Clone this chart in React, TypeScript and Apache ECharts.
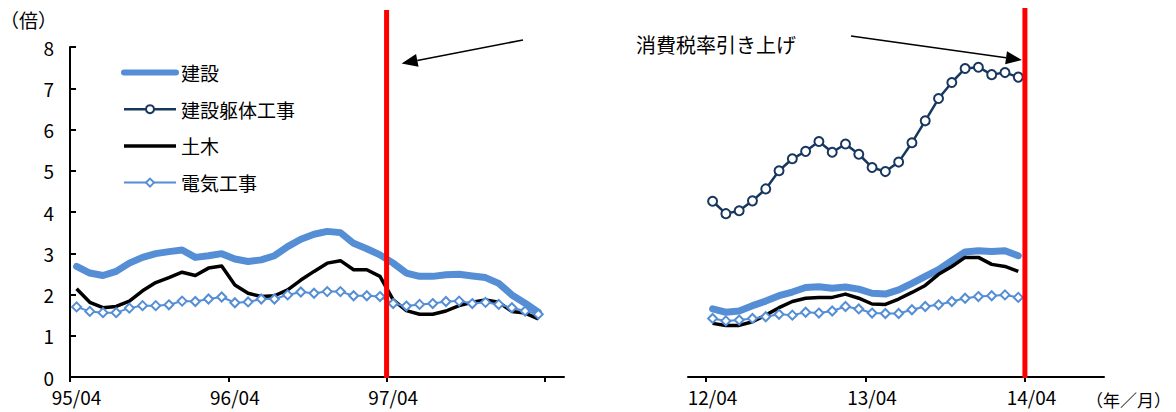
import { useEffect, useRef } from 'react';
import * as echarts from 'echarts';

// Series names (legend order)
const NAMES = ['建設', '建設躯体工事', '土木', '電気工事'];

// Tick labels (April of each fiscal year)
const LEFT_TICK_LABELS = ['95/04', '96/04', '97/04'];
const RIGHT_TICK_LABELS = ['12/04', '13/04', '14/04'];

// Monthly ratios, 1995/04 – 1998/03
const kensetsu95 = [
  2.68, 2.52, 2.46, 2.56, 2.76, 2.90, 2.99, 3.04, 3.08, 2.90, 2.94, 2.99,
  2.86, 2.80, 2.84, 2.94, 3.16, 3.34, 3.46, 3.53, 3.50, 3.24, 3.11, 2.96,
  2.76, 2.52, 2.44, 2.44, 2.48, 2.49, 2.45, 2.41, 2.27, 1.99, 1.79, 1.57,
];
const doboku95 = [
  2.14, 1.81, 1.68, 1.71, 1.84, 2.09, 2.29, 2.41, 2.54, 2.46, 2.64, 2.69,
  2.23, 2.03, 1.95, 1.97, 2.11, 2.35, 2.56, 2.76, 2.82, 2.60, 2.60, 2.44,
  1.87, 1.61, 1.52, 1.52, 1.60, 1.73, 1.81, 1.87, 1.81, 1.59, 1.55, 1.41,
];
const denki95 = [
  1.70, 1.59, 1.56, 1.56, 1.67, 1.73, 1.73, 1.75, 1.84, 1.83, 1.89, 1.94,
  1.80, 1.82, 1.89, 1.89, 1.99, 2.06, 2.03, 2.07, 2.07, 1.97, 1.97, 1.95,
  1.78, 1.72, 1.76, 1.78, 1.83, 1.84, 1.78, 1.81, 1.76, 1.68, 1.60, 1.52,
];

// Monthly ratios, 2012/04 – 2014/03
const kensetsu12 = [
  1.65, 1.57, 1.60, 1.73, 1.84, 1.97, 2.06, 2.17, 2.19, 2.15, 2.18, 2.13,
  2.03, 2.01, 2.11, 2.27, 2.44, 2.60, 2.82, 3.03, 3.06, 3.04, 3.06, 2.94,
];
const kutai12 = [
  4.26, 3.96, 4.03, 4.27, 4.56, 5.00, 5.29, 5.47, 5.71, 5.45, 5.65, 5.40,
  5.08, 4.98, 5.21, 5.68, 6.21, 6.75, 7.14, 7.48, 7.51, 7.33, 7.38, 7.27,
];
const doboku12 = [
  1.30, 1.25, 1.25, 1.34, 1.50, 1.68, 1.83, 1.91, 1.93, 1.93, 2.01, 1.91,
  1.77, 1.76, 1.89, 2.05, 2.22, 2.49, 2.68, 2.90, 2.90, 2.73, 2.68, 2.56,
];
const denki12 = [
  1.42, 1.36, 1.38, 1.42, 1.46, 1.52, 1.50, 1.57, 1.55, 1.60, 1.71, 1.65,
  1.55, 1.54, 1.54, 1.63, 1.71, 1.75, 1.83, 1.91, 1.95, 1.97, 1.99, 1.93,
];

// Consumption-tax hike month (months from the start of each panel)
const TAX_HIKE_MONTH = 24;

const FONT = '"Noto Sans CJK JP", "Noto Sans", sans-serif';
const BLUE = '#558ED5';
const NAVY = '#17375E';

// Month index -> position at the middle of that month's slot
const toPoints = (values: number[]) => values.map((v, i) => [i + 0.5, v]);

const styleFor: Record<string, any> = {
  建設: {
    symbol: 'none',
    lineStyle: { width: 7, color: BLUE, cap: 'round', join: 'round' },
    itemStyle: { color: BLUE },
  },
  建設躯体工事: {
    symbol: 'circle',
    symbolSize: 9,
    showAllSymbol: true,
    lineStyle: { width: 2.5, color: NAVY },
    itemStyle: { color: '#fff', borderColor: NAVY, borderWidth: 2 },
  },
  土木: {
    symbol: 'none',
    lineStyle: { width: 3.5, color: '#000', join: 'round' },
    itemStyle: { color: '#000' },
  },
  電気工事: {
    symbol: 'diamond',
    symbolSize: 9,
    showAllSymbol: true,
    lineStyle: { width: 2, color: BLUE },
    itemStyle: { color: '#fff', borderColor: BLUE, borderWidth: 2 },
  },
};

const makeSeries = (name: string, panel: number, values: number[]) => ({
  type: 'line',
  name,
  xAxisIndex: panel,
  yAxisIndex: panel,
  data: toPoints(values),
  emphasis: { disabled: true },
  ...styleFor[name],
});

const xAxisFor = (panel: number, min: number, max: number, labels: string[], tickValues: number[]) => ({
  type: 'value',
  gridIndex: panel,
  min,
  max,
  axisLine: { show: true, onZero: false, lineStyle: { color: '#000', width: 2 } },
  axisTick: {
    show: true,
    inside: false,
    length: 5,
    customValues: tickValues,
    lineStyle: { color: '#000', width: 2 },
  },
  axisLabel: {
    customValues: labels.map((_, k) => k * 12 + 0.5),
    formatter: (v: number) => labels[Math.round((v - 0.5) / 12)] ?? '',
    fontSize: 19,
    fontFamily: FONT,
    color: '#000',
    margin: 10,
  },
  splitLine: { show: false },
});

function arrow(x1: number, y1: number, x2: number, y2: number) {
  const len = 16;
  const half = 6.5;
  const dx = x2 - x1;
  const dy = y2 - y1;
  const d = Math.hypot(dx, dy);
  const ux = dx / d;
  const uy = dy / d;
  const bx = x2 - ux * len;
  const by = y2 - uy * len;
  return [
    {
      type: 'line',
      z: 100,
      shape: { x1, y1, x2: bx, y2: by },
      style: { stroke: '#000', lineWidth: 1.6 },
    },
    {
      type: 'polygon',
      z: 100,
      shape: {
        points: [
          [x2, y2],
          [bx - uy * half, by + ux * half],
          [bx + uy * half, by - ux * half],
        ],
      },
      style: { fill: '#000' },
    },
  ];
}

export default function App() {
  const ref = useRef<HTMLDivElement>(null);

  useEffect(() => {
    if (!ref.current) return;
    const chart = echarts.init(ref.current, undefined, { renderer: 'svg' });

    chart.setOption({
      animation: false,
      backgroundColor: '#fff',
      grid: [
        { left: 70, top: 47, width: 494, height: 330 },
        { left: 688, top: 47, width: 416, height: 330 },
      ],
      xAxis: [
        xAxisFor(0, 0, 37.45, LEFT_TICK_LABELS, [0, 12, 24, 36]),
        xAxisFor(1, -1.35, 29.95, RIGHT_TICK_LABELS, [0, 12, 24]),
      ],
      yAxis: [
        {
          type: 'value',
          gridIndex: 0,
          min: 0,
          max: 8,
          interval: 1,
          axisLine: { show: true, onZero: false, lineStyle: { color: '#000', width: 2 } },
          axisTick: { show: true, inside: true, length: 6, lineStyle: { color: '#000', width: 2 } },
          axisLabel: { fontSize: 19, fontFamily: FONT, color: '#000', margin: 16 },
          splitLine: { show: false },
        },
        {
          type: 'value',
          gridIndex: 1,
          min: 0,
          max: 8,
          interval: 1,
          show: false,
          splitLine: { show: false },
        },
      ],
      legend: {
        orient: 'vertical',
        left: 121,
        top: 63,
        padding: 0,
        itemWidth: 52,
        itemHeight: 10,
        itemGap: 17.7,
        selectedMode: false,
        textStyle: { fontSize: 19, fontFamily: FONT, color: '#000' },
        data: [
          { name: '建設', itemStyle: { opacity: 0 }, lineStyle: { width: 6, cap: 'round' } },
          { name: '建設躯体工事', lineStyle: { width: 2.5 } },
          { name: '土木', itemStyle: { opacity: 0 }, lineStyle: { width: 3.5 } },
          { name: '電気工事', lineStyle: { width: 2 } },
        ],
      },
      series: [
        makeSeries(NAMES[0], 0, kensetsu95),
        makeSeries(NAMES[2], 0, doboku95),
        makeSeries(NAMES[3], 0, denki95),
        makeSeries(NAMES[0], 1, kensetsu12),
        makeSeries(NAMES[1], 1, kutai12),
        makeSeries(NAMES[2], 1, doboku12),
        makeSeries(NAMES[3], 1, denki12),
      ],
    });

    // Annotations placed from the axes' own scales
    const xLeft = chart.convertToPixel({ xAxisIndex: 0 }, TAX_HIKE_MONTH) as number;
    const xRight = chart.convertToPixel({ xAxisIndex: 1 }, TAX_HIKE_MONTH) as number;
    const yBase = chart.convertToPixel({ yAxisIndex: 0 }, 0) as number;

    chart.setOption({
      graphic: [
        {
          type: 'text',
          x: 0,
          y: 19,
          style: { text: '（倍）', fontSize: 19, fontFamily: FONT, fill: '#000', verticalAlign: 'middle' },
        },
        {
          type: 'text',
          x: 1171,
          y: 399,
          style: {
            text: '（年／月）',
            fontSize: 17,
            fontFamily: FONT,
            fill: '#000',
            align: 'right',
            verticalAlign: 'middle',
          },
        },
        {
          type: 'line',
          z: 100,
          shape: { x1: xLeft, y1: 10, x2: xLeft, y2: yBase + 1 },
          style: { stroke: '#FF0000', lineWidth: 5 },
        },
        {
          type: 'line',
          z: 100,
          shape: { x1: xRight, y1: 8, x2: xRight, y2: yBase + 1 },
          style: { stroke: '#FF0000', lineWidth: 5 },
        },
        {
          type: 'text',
          x: 636,
          y: 44,
          style: { text: '消費税率引き上げ', fontSize: 20, fontFamily: FONT, fill: '#000', verticalAlign: 'middle' },
        },
        ...arrow(523, 40, xLeft + 15, 63.5),
        ...arrow(851, 36, xRight - 3, 60),
      ],
    });

    return () => chart.dispose();
  }, []);

  return (
    <div
      ref={ref}
      style={{ position: 'absolute', left: 0, top: 0, width: 1176, height: 412 }}
    />
  );
}
